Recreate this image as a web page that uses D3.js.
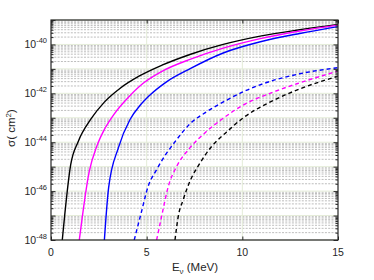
<!DOCTYPE html>
<html lang="en">
  <head>
    <meta charset="UTF-8" />
    <title>Cross sections</title>
    <script src="https://cdn.jsdelivr.net/npm/d3@7/dist/d3.min.js"></script>
    <style>
      body { margin: 0; background: #fff; }
      text { font-family: "Liberation Sans", Arial, sans-serif; fill: #262626; }
    </style>
  </head>
  <body>
    <svg width="374" height="280"></svg>
  </body>
  <script>
    // energies (MeV) and log10(sigma / cm^2)
    var blackE = [0.59, 1.03, 1.43, 2.07, 2.8, 3.6, 4.6, 5.8, 7.3, 9.0, 11.0, 13.0, 15];
    var blackL = [-48, -44.92, -43.96, -43.07, -42.35, -41.8, -41.3, -40.85, -40.4, -40.0, -39.65, -39.4, -39.18];
    var magE = [1.48, 2.0, 2.39, 2.79, 3.3, 4.0, 4.8, 5.8, 7.3, 9.0, 11.0, 13.0, 15];
    var magL = [-48, -45.19, -44.17, -43.48, -42.85, -42.2, -41.6, -41.1, -40.6, -40.15, -39.75, -39.45, -39.21];
    var blueE = [2.79, 3.01, 3.52, 4.13, 4.65, 5.2, 6.0, 7.3, 9.0, 11.0, 13.0, 15];
    var blueL = [-48, -45.87, -44.23, -43.07, -42.5, -42.05, -41.55, -40.98, -40.35, -39.88, -39.55, -39.27];
    var blueDE = [4.35, 4.71, 5.08, 5.52, 6.05, 6.57, 7.26, 8.14, 9.18, 10.2, 11.5, 13.0, 15];
    var blueDL = [-48, -46.9, -45.8, -45.12, -44.44, -43.89, -43.25, -42.75, -42.28, -41.88, -41.5, -41.2, -40.95];
    var magDE = [5.52, 5.78, 6.13, 6.57, 7.26, 8.14, 9.0, 10.0, 11.44, 13.0, 15];
    var magDL = [-48, -47.04, -45.81, -44.99, -44.23, -43.55, -43.02, -42.5, -42.0, -41.57, -41.09];
    var blackDE = [6.48, 6.65, 6.91, 7.26, 7.79, 8.4, 9.18, 10.05, 11.44, 13.0, 15];
    var blackDL = [-48, -47.04, -46.35, -45.6, -44.85, -44.17, -43.58, -43.0, -42.36, -41.82, -41.3];

    var xTicks = [0, 5, 10, 15];
    var yTickExp = [-48, -46, -44, -42, -40];

    var svg = d3.select("svg");
    var mLeft = 51, mTop = 20, mRight = 338, mBottom = 240;

    var x = d3.scaleLinear().domain([0, 15]).range([mLeft, mRight]);
    var y = d3.scaleLog().domain([1e-48, 1e-39]).range([mBottom, mTop]);

    // grid
    var decades = d3.range(-48, -38);
    var minor = [];
    decades.slice(0, -1).forEach(function (e) {
      for (let k = 2; k <= 9; k++) minor.push(k * Math.pow(10, e));
    });
    svg.append("g").selectAll("line").data(minor).enter().append("line")
      .attr("x1", mLeft).attr("x2", mRight)
      .attr("y1", (d) => y(d)).attr("y2", (d) => y(d))
      .attr("stroke", "#bdbdbd").attr("stroke-width", 1)
      .attr("stroke-dasharray", "2,1.3");
    svg.append("g").selectAll("line").data(decades).enter().append("line")
      .attr("x1", mLeft).attr("x2", mRight)
      .attr("y1", (d) => y(Math.pow(10, d))).attr("y2", (d) => y(Math.pow(10, d)))
      .attr("stroke", "#e4ecd8").attr("stroke-width", 1);
    svg.append("g").selectAll("line").data([5, 10]).enter().append("line")
      .attr("y1", mTop).attr("y2", mBottom)
      .attr("x1", (d) => x(d)).attr("x2", (d) => x(d))
      .attr("stroke", "#e4ecd8").attr("stroke-width", 1);

    // curves
    var clip = svg.append("clipPath").attr("id", "clip");
    clip.append("rect").attr("x", mLeft).attr("y", mTop)
      .attr("width", mRight - mLeft).attr("height", mBottom - mTop);

    var line = d3.line()
      .x((d) => x(d[0]))
      .y((d) => y(Math.pow(10, d[1])))
      .curve(d3.curveMonotoneX);

    var series = [
      [blackE, blackL, "#000000", null],
      [magE, magL, "#ff00ff", null],
      [blueE, blueL, "#0000ff", null],
      [blueDE, blueDL, "#0000ff", "4,3"],
      [magDE, magDL, "#ff00ff", "4,3"],
      [blackDE, blackDL, "#000000", "4,3"]
    ];
    var g = svg.append("g").attr("clip-path", "url(#clip)");
    series.forEach(function (s) {
      g.append("path")
        .datum(s[0].map((e, i) => [e, s[1][i]]))
        .attr("d", line)
        .attr("fill", "none")
        .attr("stroke", s[2])
        .attr("stroke-width", 1.4)
        .attr("stroke-dasharray", s[3]);
    });

    // axes (ticks inward, box)
    var majorTicks = decades.map((e) => Math.pow(10, e));
    function yAx(gen, size, vals) {
      return gen(y).tickValues(vals).tickSize(size).tickFormat("");
    }
    svg.append("g").attr("transform", "translate(" + mLeft + ",0)")
      .call(yAx(d3.axisRight, 2.5, minor));
    svg.append("g").attr("transform", "translate(" + mLeft + ",0)")
      .call(yAx(d3.axisRight, 4.5, majorTicks));
    svg.append("g").attr("transform", "translate(" + mRight + ",0)")
      .call(yAx(d3.axisLeft, 2.5, minor));
    svg.append("g").attr("transform", "translate(" + mRight + ",0)")
      .call(yAx(d3.axisLeft, 4.5, majorTicks));
    svg.append("g").attr("transform", "translate(0," + mBottom + ")")
      .call(d3.axisTop(x).tickValues(xTicks).tickSize(3.5).tickFormat(""));
    svg.append("g").attr("transform", "translate(0," + mTop + ")")
      .call(d3.axisBottom(x).tickValues(xTicks).tickSize(3.5).tickFormat(""));
    svg.selectAll(".domain").remove();
    svg.selectAll(".tick line").attr("stroke", "#262626");

    svg.append("rect").attr("x", mLeft).attr("y", mTop)
      .attr("width", mRight - mLeft).attr("height", mBottom - mTop)
      .attr("fill", "none").attr("stroke", "#262626").attr("stroke-width", 1.2);

    // tick labels
    svg.append("g").selectAll("text").data(xTicks).enter().append("text")
      .attr("x", (d) => x(d)).attr("y", 256)
      .attr("text-anchor", "middle").attr("font-size", 10.5)
      .text((d) => d);

    var yl = svg.append("g").selectAll("text").data(yTickExp).enter().append("text")
      .attr("x", 47).attr("y", (d) => y(Math.pow(10, d)) + 4)
      .attr("text-anchor", "end").attr("font-size", 10.5);
    yl.append("tspan").text("10");
    yl.append("tspan").attr("dy", -5).attr("font-size", 7.5).text((d) => "-" + Math.abs(d));

    // axis titles
    var xt = svg.append("text").attr("x", 195).attr("y", 271)
      .attr("text-anchor", "middle").attr("font-size", 11.5);
    xt.append("tspan").text("E");
    xt.append("tspan").attr("dy", 3).attr("font-size", 8).text("\u03bd");
    xt.append("tspan").attr("dy", -3).text(" (MeV)");

    var yt = svg.append("text")
      .attr("transform", "translate(15,128) rotate(-90)")
      .attr("text-anchor", "middle").attr("font-size", 11.5);
    yt.append("tspan").text("\u03c3( cm");
    yt.append("tspan").attr("dy", -4.5).attr("font-size", 8).text("2");
    yt.append("tspan").attr("dy", 4.5).text(")");
  </script>
</html>
